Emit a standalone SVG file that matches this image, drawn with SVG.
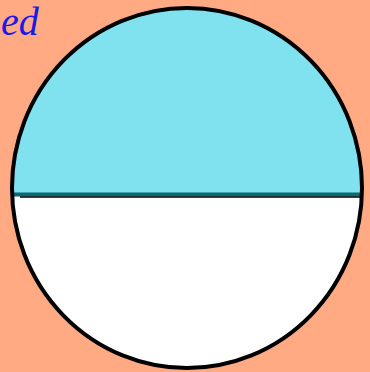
<svg xmlns="http://www.w3.org/2000/svg" width="370" height="372" viewBox="0 0 370 372">
<defs>
<clipPath id="disc"><ellipse cx="187" cy="188" rx="175" ry="180"/></clipPath>
</defs>
<style>
.outline{fill:none;stroke:#000;stroke-width:4}
</style>
<rect x="0" y="0" width="370" height="372" fill="#FFAA82"/>
<g id="label"><text x="1" y="35" font-family="Liberation Serif, serif" font-style="italic" font-size="40" fill="#1A1AE6">ed</text></g>
<g id="circle">
<g clip-path="url(#disc)">
<rect x="0" y="0" width="370" height="196" fill="#80E2EE"/>
<rect x="0" y="196" width="370" height="176" fill="#FFFFFF"/>
<line x1="0" y1="194.5" x2="370" y2="194.5" stroke="#0B6A72" stroke-width="4"/>
<line x1="20" y1="197" x2="370" y2="197" stroke="#000" stroke-width="1.5"/>
</g>
<ellipse cx="187" cy="188" rx="175" ry="180" class="outline"/>
</g>
</svg>
